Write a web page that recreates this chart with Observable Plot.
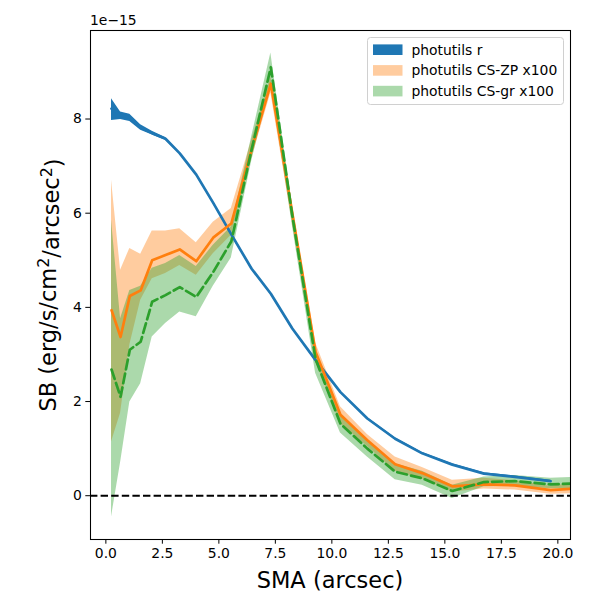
<!DOCTYPE html>
<html>
<head>
<meta charset="utf-8">
<script src="https://cdn.jsdelivr.net/npm/d3@7"></script>
<script src="https://cdn.jsdelivr.net/npm/@observablehq/plot@0.6"></script>
<style>
  html, body { margin: 0; padding: 0; background: white; }
  #chart svg { display: block; }
</style>
</head>
<body>
<div id="chart"></div>
<script>
// SMA (arcsec)
const sma = [0.25, 0.65, 1.06, 1.54, 2.05, 2.64, 3.27, 4.0, 4.75, 5.55, 6.45, 7.3, 8.25, 9.28, 10.38, 11.57, 12.8, 14.0, 15.33, 16.73, 18.1, 19.68, 21.3];

// photutils r (x1e-15)
const rVal = [8.22, 8.08, 8.03, 7.82, 7.70, 7.58, 7.27, 6.82, 6.22, 5.55, 4.82, 4.29, 3.55, 2.88, 2.20, 1.64, 1.21, 0.90, 0.66, 0.47, 0.40, 0.31];
const rLo  = [7.97, 7.99, 7.95, 7.76, 7.66, 7.55, 7.25, 6.80, 6.20, 5.53, 4.80, 4.27, 3.53, 2.86, 2.18, 1.62, 1.19, 0.88, 0.64, 0.45, 0.38, 0.29];
const rHi  = [8.43, 8.15, 8.10, 7.88, 7.74, 7.61, 7.29, 6.84, 6.24, 5.57, 4.84, 4.31, 3.57, 2.90, 2.22, 1.66, 1.23, 0.92, 0.68, 0.49, 0.42, 0.33];

// photutils CS-ZP x100
const zpVal = [3.94, 3.37, 4.24, 4.36, 5.00, 5.11, 5.23, 4.98, 5.48, 5.78, 7.35, 8.75, 6.00, 3.05, 1.72, 1.18, 0.67, 0.48, 0.20, 0.24, 0.22, 0.12, 0.17];
const zpLo  = [1.14, 1.75, 3.20, 4.15, 4.61, 4.72, 4.89, 4.68, 5.14, 5.53, 7.15, 8.55, 5.80, 2.85, 1.53, 1.05, 0.52, 0.36, 0.08, 0.14, 0.12, 0.03, 0.05];
const zpHi  = [6.70, 4.79, 5.25, 5.13, 5.62, 5.62, 5.67, 5.37, 5.81, 6.10, 7.55, 8.90, 6.20, 3.25, 1.89, 1.30, 0.82, 0.60, 0.33, 0.37, 0.32, 0.20, 0.30];

// photutils CS-gr x100
const grVal = [2.68, 2.10, 3.10, 3.27, 4.12, 4.26, 4.43, 4.22, 4.75, 5.40, 7.35, 9.10, 5.95, 2.90, 1.53, 1.00, 0.51, 0.37, 0.10, 0.29, 0.31, 0.24, 0.27];
const grLo  = [-0.45, 0.70, 1.99, 2.38, 3.37, 3.66, 3.90, 3.80, 4.45, 5.05, 7.10, 8.75, 5.75, 2.60, 1.33, 0.82, 0.34, 0.22, -0.06, 0.19, 0.20, 0.15, 0.16];
const grHi  = [5.85, 3.76, 4.36, 4.45, 4.83, 4.93, 5.10, 4.87, 5.32, 5.71, 7.62, 9.40, 6.15, 3.10, 1.72, 1.18, 0.68, 0.52, 0.22, 0.40, 0.43, 0.37, 0.40];

const xTicks = [0, 2.5, 5, 7.5, 10, 12.5, 15, 17.5, 20];
const yTicks = [0, 2, 4, 6, 8];
const seriesNames = ["photutils r", "photutils CS-ZP x100", "photutils CS-gr x100"];
const colors = ["#1f77b4", "#ff7f0e", "#2ca02c"];

const rRows = rVal.map((v, i) => ({x: sma[i], v, lo: rLo[i], hi: rHi[i]}));
const zpRows = zpVal.map((v, i) => ({x: sma[i], v, lo: zpLo[i], hi: zpHi[i]}));
const grRows = grVal.map((v, i) => ({x: sma[i], v, lo: grLo[i], hi: grHi[i]}));

const font = "'DejaVu Sans', sans-serif";

const chart = Plot.plot({
  width: 600,
  height: 600,
  marginLeft: 90,
  marginRight: 30,
  marginTop: 30,
  marginBottom: 61,
  x: {domain: [-0.68, 20.56]},
  y: {domain: [-0.93, 9.88]},
  style: {fontFamily: font, fontSize: "13.9px", color: "black", background: "white"},
  marks: [
    Plot.areaY(rRows, {x: "x", y1: "lo", y2: "hi", fill: colors[0], clip: true}),
    Plot.areaY(zpRows, {x: "x", y1: "lo", y2: "hi", fill: colors[1], fillOpacity: 0.4, clip: true}),
    Plot.areaY(grRows, {x: "x", y1: "lo", y2: "hi", fill: colors[2], fillOpacity: 0.4, clip: true}),
    Plot.ruleY([0], {stroke: "black", strokeWidth: 2, strokeDasharray: "7.4,3.2"}),
    Plot.lineY(rRows, {x: "x", y: "v", stroke: colors[0], strokeWidth: 2.7, clip: true}),
    Plot.lineY(zpRows, {x: "x", y: "v", stroke: colors[1], strokeWidth: 2.7, clip: true}),
    Plot.lineY(grRows, {x: "x", y: "v", stroke: colors[2], strokeWidth: 2.7, strokeDasharray: "9.9,4.3", clip: true}),
    Plot.axisX({ticks: xTicks, tickFormat: d => d.toFixed(1), tickSize: 4.7, tickPadding: 4, label: null}),
    Plot.axisY({ticks: yTicks, tickFormat: d => String(d), tickSize: 4.7, tickPadding: 4, label: null}),
    Plot.frame({stroke: "black", strokeWidth: 1.07})
  ]
});

document.getElementById("chart").appendChild(chart);

const svg = d3.select(chart);

// Axis labels
svg.append("text")
  .attr("x", 330).attr("y", 588)
  .attr("text-anchor", "middle")
  .style("font-family", font).style("font-size", "22.5px")
  .attr("fill", "black")
  .text("SMA (arcsec)");

const yl = svg.append("text")
  .attr("transform", "translate(56,285) rotate(-90)")
  .attr("text-anchor", "middle")
  .style("font-family", font).style("font-size", "22.5px")
  .attr("fill", "black");
yl.append("tspan").text("SB (erg/s/cm");
yl.append("tspan").attr("dy", "-0.45em").style("font-size", "15.8px").text("2");
yl.append("tspan").attr("dy", "0.45em").text("/arcsec");
yl.append("tspan").attr("dy", "-0.45em").style("font-size", "15.8px").text("2");
yl.append("tspan").attr("dy", "0.45em").text(")");

svg.append("text")
  .attr("x", 90).attr("y", 25)
  .attr("text-anchor", "start")
  .style("font-family", font).style("font-size", "13.9px")
  .attr("fill", "black")
  .text("1e\u221215");

// Legend
const lg = svg.append("g").attr("text-anchor", "start");
lg.append("rect")
  .attr("x", 367.5).attr("y", 37.5).attr("width", 196).attr("height", 67)
  .attr("rx", 3).attr("fill", "white").attr("fill-opacity", 0.8)
  .attr("stroke", "#d0d0d0").attr("stroke-width", 1);
const opac = [1, 0.4, 0.4];
seriesNames.forEach((name, i) => {
  const cy = 49.7 + i * 20.7;
  lg.append("rect")
    .attr("x", 373).attr("y", cy - 5.3).attr("width", 29.5).attr("height", 10.6)
    .attr("fill", colors[i]).attr("fill-opacity", opac[i]);
  lg.append("text")
    .attr("x", 411.5).attr("y", cy + 4.8)
    .attr("text-anchor", "start")
    .style("font-family", font).style("font-size", "13.9px")
    .attr("fill", "black")
    .text(name);
});
</script>
</body>
</html>
